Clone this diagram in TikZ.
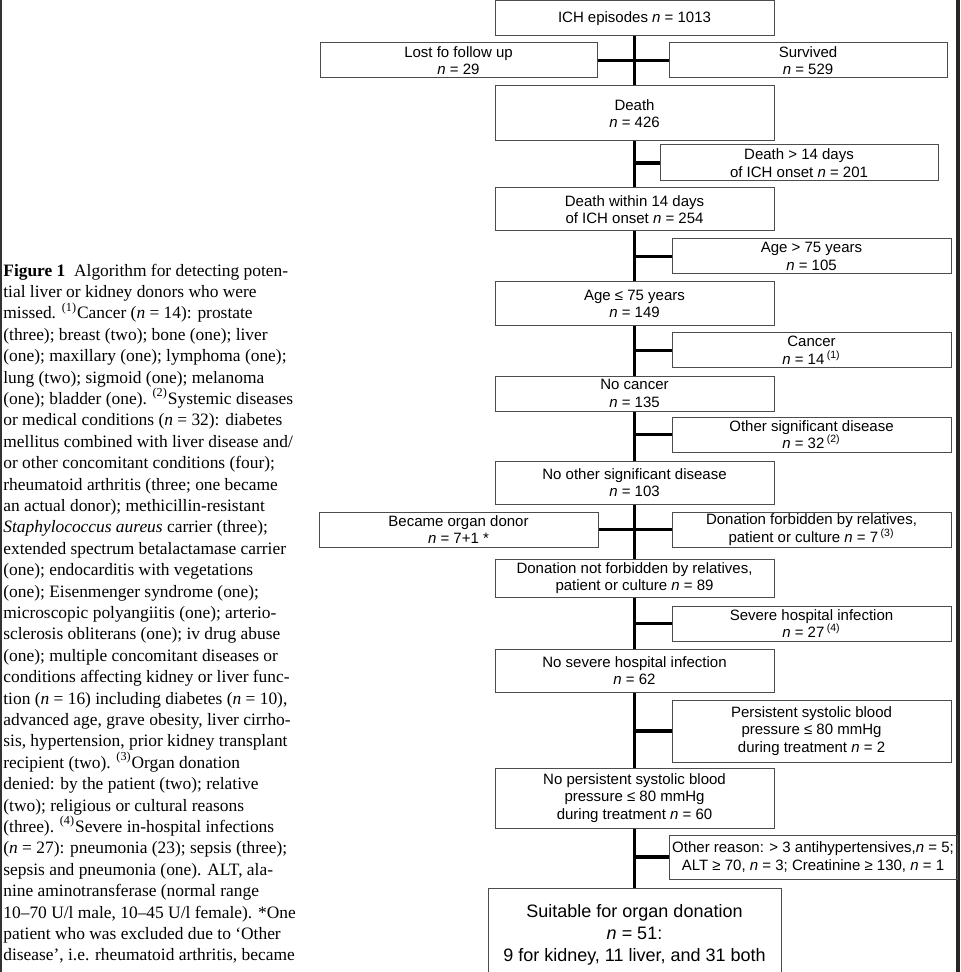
\documentclass[tikz,border=0pt]{standalone}
\usepackage{fontspec}
\setmainfont{Liberation Serif}
\setsansfont{Liberation Sans}
\usepackage{tikz}

\newcommand{\nn}{\textit{n}}

\begin{document}
\begin{tikzpicture}[x=0.5pt,y=-0.5pt,
  box/.style={draw=black!70,line width=0.5pt,minimum width=139.5pt,minimum height=17.5pt,
    inner sep=0pt,align=center,font=\sffamily\fontsize{7.5}{8.8}\selectfont},
  trunk/.style={line width=1.6pt}]
  \useasboundingbox (0,0) rectangle (960,972);
  \clip (0,0) rectangle (960,972);
  % page edges
  \draw[black!80,line width=1pt] (1,0) -- (1,972);
  \draw[black!85,line width=2pt] (958,0) -- (958,972);
  % caption (anchored on its last line)
  \node[anchor=base west,align=left,inner sep=0pt,font=\fontsize{8.7}{10.7}\selectfont] (cap) at (3,960.8) {%
    \textbf{Figure 1}\ \ Algorithm for detecting poten-\\
    tial liver or kidney donors who were\\
    missed. \textsuperscript{(1)}Cancer (\nn{} = 14): prostate\\
    (three); breast (two); bone (one); liver\\
    (one); maxillary (one); lymphoma (one);\\
    lung (two); sigmoid (one); melanoma\\
    (one); bladder (one). \textsuperscript{(2)}Systemic diseases\\
    or medical conditions (\nn{} = 32): diabetes\\
    mellitus combined with liver disease and/\\
    or other concomitant conditions (four);\\
    rheumatoid arthritis (three; one became\\
    an actual donor); methicillin-resistant\\
    \textit{Staphylococcus aureus} carrier (three);\\
    extended spectrum betalactamase carrier\\
    (one); endocarditis with vegetations\\
    (one); Eisenmenger syndrome (one);\\
    microscopic polyangiitis (one); arterio-\\
    sclerosis obliterans (one); iv drug abuse\\
    (one); multiple concomitant diseases or\\
    conditions affecting kidney or liver func-\\
    tion (\nn{} = 16) including diabetes (\nn{} = 10),\\
    advanced age, grave obesity, liver cirrho-\\
    sis, hypertension, prior kidney transplant\\
    recipient (two). \textsuperscript{(3)}Organ donation\\
    denied: by the patient (two); relative\\
    (two); religious or cultural reasons\\
    (three). \textsuperscript{(4)}Severe in-hospital infections\\
    (\nn{} = 27): pneumonia (23); sepsis (three);\\
    sepsis and pneumonia (one). ALT, ala-\\
    nine aminotransferase (normal range\\
    10--70 U/l male, 10--45 U/l female). *One\\
    patient who was excluded due to ‘Other\\
    disease’, i.e. rheumatoid arthritis, became};
  % main column
  \node[box] (ich) at (634.5,18.5) {ICH episodes \nn{} = 1013};
  \node[box,minimum width=138.5pt] (lost) at (458.5,60.5) {Lost fo follow up\\ \nn{} = 29};
  \node[box,minimum width=139pt] (surv) at (808,60.5) {Survived\\ \nn{} = 529};
  \node[box,minimum height=27.5pt] (death) at (634.5,113.5) {Death\\ \nn{} = 426};
  \node[box,minimum width=139pt,minimum height=18pt] (late) at (799,163) {Death > 14 days\\ of ICH onset \nn{} = 201};
  \node[box,minimum height=21.5pt] (early) at (634.5,209.5) {Death within 14 days\\ of ICH onset \nn{} = 254};
  \node[box] (old) at (811.5,256.5) {Age > 75 years\\ \nn{} = 105};
  \node[box,minimum height=22pt] (young) at (634.5,304) {Age ≤ 75 years\\ \nn{} = 149};
  \node[box] (cancer) at (811.5,350.5) {Cancer\\ \nn{} = 14\,\textsuperscript{(1)}};
  \node[box] (nocancer) at (634.5,393.5) {No cancer\\ \nn{} = 135};
  \node[box] (other) at (811.5,434.5) {Other significant disease\\ \nn{} = 32\,\textsuperscript{(2)}};
  \node[box,minimum height=21.5pt] (noother) at (634.5,482.5) {No other significant disease\\ \nn{} = 103};
  \node[box] (donor) at (458.5,529.5) {Became organ donor\\ \nn{} = 7+1 *};
  \node[box] (refused) at (811.5,529.5) {Donation forbidden by relatives,\\ patient or culture \nn{} = 7\,\textsuperscript{(3)}};
  \node[box,minimum height=19pt] (allowed) at (634.5,578) {Donation not forbidden by relatives,\\ patient or culture \nn{} = 89};
  \node[box] (infect) at (811.5,623.5) {Severe hospital infection\\ \nn{} = 27\,\textsuperscript{(4)}};
  \node[box,minimum height=21.5pt] (noinfect) at (634.5,670.5) {No severe hospital infection\\ \nn{} = 62};
  \node[box,minimum height=31pt] (lowbp) at (811.5,731) {Persistent systolic blood\\ pressure ≤ 80 mmHg\\ during treatment \nn{} = 2};
  \node[box,minimum height=30pt] (nolowbp) at (634.5,798) {No persistent systolic blood\\ pressure ≤ 80 mmHg\\ during treatment \nn{} = 60};
  \node[box,minimum width=144pt,minimum height=22pt] (reason) at (813,857) {Other reason: > 3 antihypertensives,\nn{} = 5;\\ ALT ≥ 70, \nn{} = 3; Creatinine ≥ 130, \nn{} = 1};
  \node[box,minimum width=146.5pt,minimum height=47pt,font=\sffamily\fontsize{9}{10.9}\selectfont] (ok) at (634.5,935) {Suitable for organ donation\\ \nn{} = 51:\\ 9 for kidney, 11 liver, and 31 both};
  % trunk
  \foreach \a/\b in {ich/death,death/early,early/young,young/nocancer,nocancer/noother,
    noother/allowed,allowed/noinfect,noinfect/nolowbp,nolowbp/ok}
    \draw[trunk] (\a) -- (\b);
  % branches
  \draw[trunk] (lost) -- (surv);
  \draw[trunk] (donor) -- (refused);
  \foreach \r in {late,old,cancer,other,infect,lowbp,reason}
    \draw[trunk] (\r.west -| ich) -- (\r.west);
\end{tikzpicture}
\end{document}
